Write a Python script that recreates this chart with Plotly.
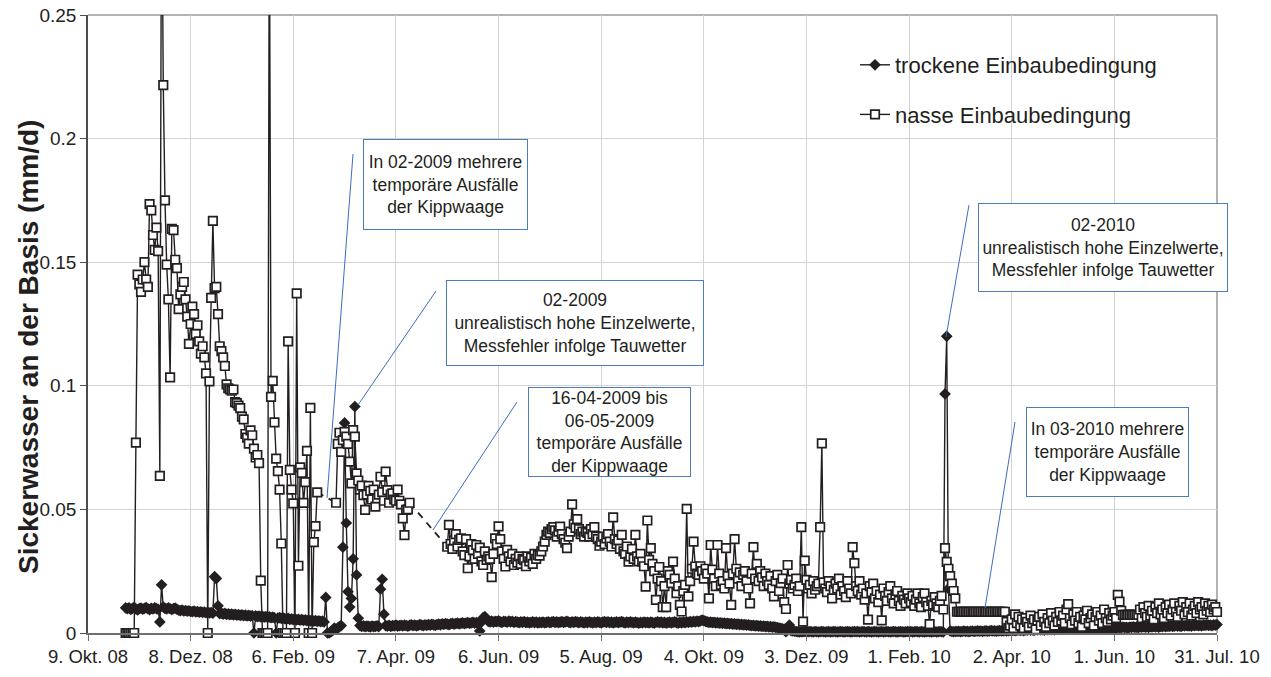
import pandas as pd
import plotly.graph_objects as go

# ---------------- data (daily values, mm/d) ----------------
tick_dates = ["2008-10-09", "2008-12-08", "2009-02-06", "2009-04-07", "2009-06-06", "2009-08-05",
              "2009-10-04", "2009-12-03", "2010-02-01", "2010-04-02", "2010-06-01", "2010-07-31"]
tick_labels = ["9. Okt. 08", "8. Dez. 08", "6. Feb. 09", "7. Apr. 09", "6. Jun. 09", "5. Aug. 09",
               "4. Okt. 09", "3. Dez. 09", "1. Feb. 10", "2. Apr. 10", "1. Jun. 10", "31. Jul. 10"]

# nasse Einbaubedingung (None = Ausfall der Kippwaage)
wet_2008_10 = [0.0]
wet_2008_11 = [0, 0, 0, 0, 0, 0.077, 0.145, 0.141, 0.138, 0.143, 0.150, 0.143, 0.140, 0.1735, 0.171,
               0.161, 0.155, 0.164, 0.1545, 0.0636, 0.32, 0.2216, 0.175, 0.149, 0.135, 0.1034, 0.1635,
               0.163, 0.151, 0.1476]
wet_2008_12 = [0.131, 0.137, 0.140, 0.142, 0.135, 0.128, 0.117, 0.125, 0.132, 0.129, 0.121, 0.1245,
               0.118, 0.113, 0.116, 0.1115, 0.105, 0.0, 0.1018, 0.1356, 0.1667, 0.1395, 0.140, 0.129,
               0.116, 0.114, 0.1115, 0.108, 0.1006, 0.099, 0.0985]
wet_2009_01 = [0.098, 0.0985, 0.0934, 0.093, 0.092, 0.091, 0.0875, 0.0864, 0.0805, 0.079, 0.0766,
               0.082, 0.080, 0.0746, 0.071, 0.072, 0.0687, 0.0212, 0.0, 0.0, 0.0, 0.0, 0.30, 0.0955,
               0.102, 0.0852, 0.0705, 0.0655, 0.058, 0.0362, 0.0]
wet_2009_02 = [0.0, 0.0, 0.118, 0.066, 0.058, 0.0524, 0.0, 0.1374, 0.0272, 0.067, 0.0648, 0.0526,
               0.061, 0.0737, 0.0, 0.0911, 0.0, 0.0368, 0.0432, 0.0569,
               None, None, None, None, None, None, None, None]
wet_2009_03 = [None, None, 0.0527, 0.0765, 0.081, 0.0733, 0.078, 0.0814, 0.0794, 0.0765, 0.0693,
               0.0605, 0.0821, 0.0794, 0.0646, 0.0617, 0.058, 0.0596, 0.0558, 0.0498, 0.056, 0.0595,
               0.0575, 0.054, 0.058, 0.0511, 0.0545, 0.056, 0.0632, 0.057, 0.0535]
wet_2009_04 = [0.0653, 0.0578, 0.0527, 0.056, 0.0565, 0.054, 0.0535, 0.058, 0.0535, 0.052, 0.0464,
               0.0396, 0.0498, 0.050, 0.0527,
               None, None, None, None, None, None, None, None, None, None, None, None, None, None, None]
wet_2009_05 = [None, None, None, None, None, None, 0.0349, 0.0437, 0.036, 0.034, 0.0375, 0.040,
               0.035, 0.0377, 0.0383, 0.033, 0.0315, 0.038, 0.0262, 0.031, 0.036, 0.0335, 0.030,
               0.0356, 0.032, 0.0345, 0.029, 0.0275, 0.033, 0.0296, 0.031]
wet_2009_06 = [0.030, 0.0226, 0.032, 0.0383, 0.036, 0.0431, 0.038, 0.033, 0.030, 0.0269, 0.0336,
               0.031, 0.029, 0.032, 0.0275, 0.030, 0.0285, 0.031, 0.028, 0.030, 0.0295, 0.027, 0.031,
               0.029, 0.0305, 0.028, 0.032, 0.030, 0.0315, 0.0313]
wet_2009_07 = [0.033, 0.035, 0.037, 0.0397, 0.041, 0.0405, 0.042, 0.0428, 0.0415, 0.039, 0.041,
               0.043, 0.040, 0.038, 0.0365, 0.0343, 0.039, 0.041, 0.052, 0.044, 0.0425, 0.0461, 0.042,
               0.040, 0.041, 0.039, 0.041, 0.0405, 0.039, 0.042, 0.040]
wet_2009_08 = [0.0428, 0.039, 0.038, 0.0353, 0.037, 0.039, 0.036, 0.0383, 0.040, 0.037, 0.035,
               0.0468, 0.038, 0.036, 0.0375, 0.034, 0.0397, 0.033, 0.032, 0.035, 0.0289, 0.031, 0.034,
               0.030, 0.0397, 0.031, 0.029, 0.032, 0.0289, 0.027, 0.0188]
wet_2009_09 = [0.0455, 0.0296, 0.0343, 0.028, 0.025, 0.0134, 0.022, 0.0267, 0.021, 0.0105, 0.019,
               0.0105, 0.025, 0.0235, 0.0202, 0.0289, 0.022, 0.0161, 0.019, 0.0114, 0.0087, 0.017,
               0.0195, 0.0502, 0.0148, 0.021, 0.026, 0.037, 0.0269, 0.024]
wet_2009_10 = [0.0235, 0.027, 0.025, 0.022, 0.026, 0.024, 0.014, 0.0356, 0.0256, 0.022, 0.019,
               0.0356, 0.024, 0.0195, 0.021, 0.018, 0.0343, 0.023, 0.020, 0.0114, 0.024, 0.038, 0.026,
               0.022, 0.0245, 0.019, 0.0235, 0.025, 0.021, 0.018, 0.012]
wet_2009_11 = [0.024, 0.0347, 0.022, 0.028, 0.021, 0.025, 0.0225, 0.019, 0.024, 0.021, 0.0195,
               0.023, 0.018, 0.0148, 0.021, 0.0235, 0.017, 0.0202, 0.022, 0.0125, 0.0097, 0.0275,
               0.020, 0.0215, 0.018, 0.0195, 0.022, 0.017, 0.019, 0.0428]
wet_2009_12 = [0.0046, 0.0293, 0.0215, 0.018, 0.0195, 0.016, 0.021, 0.0175, 0.019, 0.020, 0.0428,
               0.0767, 0.0205, 0.018, 0.0165, 0.021, 0.019, 0.014, 0.0175, 0.020, 0.018, 0.022, 0.0155,
               0.019, 0.017, 0.0145, 0.021, 0.018, 0.016, 0.0347, 0.0283]
wet_2010_01 = [0.019, 0.017, 0.021, 0.0155, 0.018, 0.0135, 0.016, 0.0054, 0.019, 0.0165, 0.020,
               0.014, 0.017, 0.0125, 0.0155, 0.0051, 0.018, 0.015, 0.013, 0.0165, 0.019, 0.014, 0.012,
               0.0155, 0.017, 0.013, 0.011, 0.015, 0.0135, 0.012, 0.016]
wet_2010_02 = [0.014, 0.0125, 0.015, 0.011, 0.0135, 0.016, 0.012, 0.0105, 0.0145, 0.016, 0.0125,
               0.011, 0.0036, 0.013, 0.0115, 0.0145, 0.012, 0.0105, 0.013, 0.015, 0.0095, 0.0343,
               0.0288, 0.026, 0.023, 0.020, 0.017, 0.014]
wet_2010_03 = [0.0086, 0.0086, 0.0086, 0.0086, 0.0086, 0.0086, 0.0086, 0.0086, 0.0086, 0.0086,
               0.0086, 0.0086, 0.0086, 0.0086, 0.0086, 0.0086, 0.0086, 0.0086, 0.0086, 0.0086,
               0.0086, 0.0086, 0.0086, 0.0086, 0.0086, 0.0086, 0.0086, 0.0086, 0.0086, 0.0045, 0.002]
wet_2010_04 = [0.003, 0.0055, 0.002, 0.0075, 0.004, 0.0065, 0.003, 0.0055, 0.002, 0.006, 0.0045,
               0.0025, 0.007, 0.004, 0.0055, 0.0015, 0.005, 0.0065, 0.003, 0.0075, 0.0045, 0.0025,
               0.006, 0.004, 0.008, 0.005, 0.003, 0.0065, 0.0045, 0.0085]
wet_2010_05 = [0.005, 0.007, 0.004, 0.0095, 0.0117, 0.006, 0.0035, 0.0075, 0.005, 0.0085, 0.004,
               0.0065, 0.0025, 0.007, 0.0055, 0.009, 0.004, 0.006, 0.0075, 0.003, 0.0065, 0.0085,
               0.005, 0.007, 0.004, 0.0095, 0.006, 0.0045, 0.008, 0.0055, 0.007]
wet_2010_06 = [0.0085, 0.006, 0.0154, 0.0127, 0.009, 0.0073, 0.0073, 0.0073, 0.0073, 0.0073, 0.0073,
               0.0073, 0.0073, 0.0073, 0.0073, 0.0095, 0.006, 0.0105, 0.008, 0.0065, 0.011, 0.007,
               0.009, 0.0055, 0.0105, 0.008, 0.012, 0.0075, 0.0095, 0.006]
wet_2010_07 = [0.0105, 0.008, 0.0115, 0.007, 0.0095, 0.012, 0.0085, 0.0065, 0.011, 0.009, 0.0125,
               0.0075, 0.0105, 0.0085, 0.012, 0.007, 0.0095, 0.011, 0.008, 0.0125, 0.0095, 0.0105,
               0.0075, 0.012, 0.009, 0.011, 0.0085, 0.0115, 0.0095, 0.0105, 0.0085]

# trockene Einbaubedingung
dry_2008_10 = [0.0102]
dry_2008_11 = [0.0098, 0.0102, 0.0095, 0.0100, 0.0104, 0.0097, 0.0093, 0.0099, 0.0101, 0.0096,
               0.0100, 0.0103, 0.0098, 0.0094, 0.0100, 0.0097, 0.0102, 0.0099, 0.0096, 0.0045,
               0.0195, 0.0105, 0.0100, 0.0097, 0.0102, 0.0098, 0.0095, 0.0099, 0.0101, 0.0096]
dry_2008_12 = [0.0092, 0.0090, 0.0093, 0.0089, 0.0091, 0.0088, 0.0090, 0.0087, 0.0086, 0.0089,
               0.0085, 0.0087, 0.0084, 0.0086, 0.0083, 0.0085, 0.0082, 0.0084, 0.0081, 0.0083,
               0.0080, 0.0228, 0.0220, 0.0110, 0.0078, 0.0080, 0.0076, 0.0079, 0.0075, 0.0077, 0.0074]
dry_2009_01 = [0.0076, 0.0073, 0.0075, 0.0072, 0.0074, 0.0071, 0.0073, 0.0070, 0.0072, 0.0069,
               0.0071, 0.0068, 0.0070, 0.0000, 0.0069, 0.0066, 0.0068, 0.0065, 0.0067, 0.0064,
               0.0066, 0.0063, 0.0065, 0.0062, 0.0064, 0.0061, 0.0000, 0.0060, 0.0062, 0.0059, 0.0061]
dry_2009_02 = [0.0058, 0.0056, 0.0059, 0.0055, 0.0057, 0.0054, 0.0056, 0.0053, 0.0055, 0.0052,
               0.0054, 0.0051, 0.0053, 0.0050, 0.0052, 0.0049, 0.0051, 0.0048, 0.0050, 0.0047,
               0.0049, 0.0046, 0.0048, 0.0045, 0.0144, 0.0000, 0.0000, 0.0005]
dry_2009_03 = [0.0010, 0.0020, 0.0015, 0.0020, 0.0026, 0.0030, 0.0347, 0.0850, 0.0445, 0.0167,
               0.0105, 0.0140, 0.0300, 0.0916, 0.0235, 0.0060, 0.0030, 0.0027, 0.0029, 0.0026,
               0.0028, 0.0027, 0.0025, 0.0028, 0.0026, 0.0027, 0.0029, 0.0026, 0.0177, 0.0217, 0.0076]
dry_2009_04 = [0.0030, 0.0028, 0.0031, 0.0027, 0.0030, 0.0029, 0.0032, 0.0028, 0.0030, 0.0031,
               0.0029, 0.0032, 0.0030, 0.0028, 0.0031, 0.0033, 0.0030, 0.0032, 0.0029, 0.0031,
               0.0034, 0.0032, 0.0030, 0.0033, 0.0031, 0.0034, 0.0032, 0.0035, 0.0033, 0.0031]
dry_2009_05 = [0.0034, 0.0036, 0.0033, 0.0037, 0.0035, 0.0038, 0.0036, 0.0034, 0.0037, 0.0039,
               0.0036, 0.0038, 0.0040, 0.0037, 0.0039, 0.0041, 0.0038, 0.0040, 0.0042, 0.0039,
               0.0041, 0.0043, 0.0040, 0.0042, 0.0039, 0.0008, 0.0044, 0.0062, 0.0066, 0.0058, 0.0047]
dry_2009_06 = [0.0045, 0.0048, 0.0044, 0.0047, 0.0046, 0.0049, 0.0045, 0.0043, 0.0047, 0.0046,
               0.0044, 0.0048, 0.0045, 0.0047, 0.0043, 0.0046, 0.0044, 0.0042, 0.0045, 0.0043,
               0.0046, 0.0042, 0.0044, 0.0041, 0.0043, 0.0045, 0.0042, 0.0044, 0.0041, 0.0043]
dry_2009_07 = [0.0042, 0.0044, 0.0041, 0.0043, 0.0045, 0.0042, 0.0044, 0.0046, 0.0043, 0.0045,
               0.0042, 0.0044, 0.0046, 0.0043, 0.0045, 0.0047, 0.0044, 0.0042, 0.0045, 0.0043,
               0.0046, 0.0044, 0.0042, 0.0045, 0.0043, 0.0041, 0.0044, 0.0042, 0.0045, 0.0043, 0.0041]
dry_2009_08 = [0.0044, 0.0042, 0.0045, 0.0043, 0.0041, 0.0044, 0.0046, 0.0043, 0.0045, 0.0042,
               0.0044, 0.0041, 0.0043, 0.0045, 0.0042, 0.0044, 0.0046, 0.0043, 0.0041, 0.0044,
               0.0042, 0.0045, 0.0043, 0.0041, 0.0044, 0.0042, 0.0040, 0.0043, 0.0041, 0.0044, 0.0042]
dry_2009_09 = [0.0043, 0.0041, 0.0044, 0.0042, 0.0040, 0.0043, 0.0045, 0.0042, 0.0044, 0.0041,
               0.0043, 0.0040, 0.0042, 0.0044, 0.0041, 0.0043, 0.0045, 0.0042, 0.0040, 0.0043,
               0.0041, 0.0044, 0.0042, 0.0045, 0.0043, 0.0046, 0.0044, 0.0047, 0.0045, 0.0048]
dry_2009_10 = [0.0046, 0.0049, 0.0052, 0.0050, 0.0047, 0.0045, 0.0043, 0.0044, 0.0042, 0.0043,
               0.0041, 0.0042, 0.0040, 0.0041, 0.0039, 0.0040, 0.0038, 0.0039, 0.0037, 0.0038,
               0.0036, 0.0037, 0.0035, 0.0036, 0.0034, 0.0035, 0.0033, 0.0034, 0.0032, 0.0033, 0.0031]
dry_2009_11 = [0.0030, 0.0031, 0.0029, 0.0030, 0.0028, 0.0029, 0.0027, 0.0028, 0.0026, 0.0027,
               0.0025, 0.0026, 0.0024, 0.0025, 0.0023, 0.0022, 0.0020, 0.0019, 0.0017, 0.0015,
               0.0005, 0.0012, 0.0032, 0.0010, 0.0008, 0.0007, 0.0006, 0.0005, 0.0004, 0.0005]
dry_2009_12 = [0.0005, 0.0006, 0.0004, 0.0005, 0.0006, 0.0005, 0.0004, 0.0006, 0.0005, 0.0004,
               0.0005, 0.0006, 0.0005, 0.0004, 0.0005, 0.0006, 0.0004, 0.0005, 0.0006, 0.0005,
               0.0004, 0.0005, 0.0006, 0.0005, 0.0004, 0.0005, 0.0006, 0.0005, 0.0004, 0.0005, 0.0006]
dry_2010_01 = [0.0005, 0.0006, 0.0004, 0.0005, 0.0006, 0.0005, 0.0004, 0.0006, 0.0005, 0.0004,
               0.0005, 0.0006, 0.0005, 0.0004, 0.0005, 0.0006, 0.0004, 0.0005, 0.0006, 0.0005,
               0.0004, 0.0005, 0.0006, 0.0005, 0.0004, 0.0005, 0.0006, 0.0005, 0.0004, 0.0005, 0.0006]
dry_2010_02 = [0.0005, 0.0006, 0.0004, 0.0005, 0.0006, 0.0005, 0.0004, 0.0006, 0.0005, 0.0004,
               0.0005, 0.0006, 0.0005, 0.0004, 0.0005, 0.0006, 0.0004, 0.0005, 0.0006, 0.0005,
               0.0004, 0.0967, 0.1200, 0.0180, 0.0008, 0.0006, 0.0005, 0.0006]
dry_2010_03 = [0.0006, 0.0007, 0.0005, 0.0006, 0.0008, 0.0006, 0.0007, 0.0005, 0.0007, 0.0008,
               0.0006, 0.0007, 0.0009, 0.0007, 0.0008, 0.0006, 0.0008, 0.0009, 0.0007, 0.0008,
               0.0010, 0.0008, 0.0009, 0.0007, 0.0009, 0.0010, 0.0008, 0.0009, 0.0011, 0.0009, 0.0010]
dry_2010_04 = [0.0011, 0.0009, 0.0012, 0.0010, 0.0011, 0.0013, 0.0011, 0.0012, 0.0010, 0.0013,
               0.0012, 0.0014, 0.0012, 0.0013, 0.0011, 0.0014, 0.0013, 0.0015, 0.0013, 0.0014,
               0.0012, 0.0015, 0.0014, 0.0016, 0.0014, 0.0015, 0.0013, 0.0016, 0.0015, 0.0017]
dry_2010_05 = [0.0015, 0.0017, 0.0016, 0.0018, 0.0016, 0.0017, 0.0015, 0.0018, 0.0017, 0.0019,
               0.0017, 0.0018, 0.0016, 0.0019, 0.0018, 0.0020, 0.0018, 0.0019, 0.0017, 0.0020,
               0.0019, 0.0021, 0.0019, 0.0020, 0.0018, 0.0021, 0.0020, 0.0022, 0.0020, 0.0021, 0.0019]
dry_2010_06 = [0.0022, 0.0020, 0.0023, 0.0021, 0.0022, 0.0024, 0.0022, 0.0023, 0.0021, 0.0024,
               0.0023, 0.0025, 0.0023, 0.0024, 0.0022, 0.0025, 0.0024, 0.0026, 0.0024, 0.0025,
               0.0023, 0.0026, 0.0025, 0.0027, 0.0025, 0.0026, 0.0024, 0.0027, 0.0026, 0.0028]
dry_2010_07 = [0.0026, 0.0028, 0.0027, 0.0029, 0.0027, 0.0028, 0.0030, 0.0028, 0.0029, 0.0027,
               0.0030, 0.0029, 0.0031, 0.0029, 0.0030, 0.0028, 0.0031, 0.0030, 0.0032, 0.0030,
               0.0031, 0.0029, 0.0032, 0.0031, 0.0033, 0.0031, 0.0032, 0.0030, 0.0033, 0.0032, 0.0034]

month_starts = ["2008-10-31", "2008-11-01", "2008-12-01", "2009-01-01", "2009-02-01", "2009-03-01",
                "2009-04-01", "2009-05-01", "2009-06-01", "2009-07-01", "2009-08-01", "2009-09-01",
                "2009-10-01", "2009-11-01", "2009-12-01", "2010-01-01", "2010-02-01", "2010-03-01",
                "2010-04-01", "2010-05-01", "2010-06-01", "2010-07-01"]
wet_parts = [wet_2008_10, wet_2008_11, wet_2008_12, wet_2009_01, wet_2009_02, wet_2009_03,
             wet_2009_04, wet_2009_05, wet_2009_06, wet_2009_07, wet_2009_08, wet_2009_09,
             wet_2009_10, wet_2009_11, wet_2009_12, wet_2010_01, wet_2010_02, wet_2010_03,
             wet_2010_04, wet_2010_05, wet_2010_06, wet_2010_07]
dry_parts = [dry_2008_10, dry_2008_11, dry_2008_12, dry_2009_01, dry_2009_02, dry_2009_03,
             dry_2009_04, dry_2009_05, dry_2009_06, dry_2009_07, dry_2009_08, dry_2009_09,
             dry_2009_10, dry_2009_11, dry_2009_12, dry_2010_01, dry_2010_02, dry_2010_03,
             dry_2010_04, dry_2010_05, dry_2010_06, dry_2010_07]

y_title = "Sickerwasser an der Basis (mm/d)"
annotation_texts = [
    "In 02-2009 mehrere<br>temporäre Ausfälle<br>der Kippwaage",
    "02-2009<br>unrealistisch hohe Einzelwerte,<br>Messfehler infolge Tauwetter",
    "16-04-2009 bis<br>06-05-2009<br>temporäre Ausfälle<br>der Kippwaage",
    "02-2010<br>unrealistisch hohe Einzelwerte,<br>Messfehler infolge Tauwetter",
    "In 03-2010 mehrere<br>temporäre Ausfälle<br>der Kippwaage",
]


def build(parts):
    xs, ys = [], []
    for start, vals in zip(month_starts, parts):
        xs.extend(pd.date_range(start, periods=len(vals), freq="D"))
        ys.extend(vals)
    return xs, ys


wet_x, wet_y = build(wet_parts)
dry_x, dry_y = build(dry_parts)

# dashed connectors across gaps of the wet series
gap_x, gap_y = [], []
i = 0
n = len(wet_y)
while i < n:
    if wet_y[i] is None:
        j = i
        while j < n and wet_y[j] is None:
            j += 1
        if i > 0 and j < n:
            gap_x += [wet_x[i - 1], wet_x[j], None]
            gap_y += [wet_y[i - 1], wet_y[j], None]
        i = j
    else:
        i += 1

# ---------------- layout geometry ----------------
W, H = 1271, 677
L, R, T, B = 88, 1217, 15, 633          # plot area in pixels
FONT = "Liberation Sans, Arial, sans-serif"
INK = "#231f20"
BLUE = "#4a7ebb"


def px(x):
    return (x - L) / (R - L)


def py(y):
    return (B - y) / (B - T)


fig = go.Figure()
fig.add_trace(go.Scatter(
    x=dry_x, y=dry_y, mode="lines+markers", name="trockene Einbaubedingung",
    legendgroup="a", cliponaxis=False,
    line=dict(color=INK, width=1.4),
    marker=dict(symbol="diamond", size=9, color=INK, line=dict(width=0)),
))
fig.add_trace(go.Scatter(
    x=gap_x, y=gap_y, mode="lines", showlegend=False, hoverinfo="skip",
    line=dict(color=INK, width=1.8, dash="7px,6px"),
))
fig.add_trace(go.Scatter(
    x=wet_x, y=wet_y, mode="lines+markers", name="nasse Einbaubedingung",
    legendgroup="b", cliponaxis=False,
    line=dict(color=INK, width=1.4),
    marker=dict(symbol="square", size=8.5, color="white", line=dict(color=INK, width=1.7)),
))

# annotation boxes (pixel boxes: left, top, right, bottom)
boxes = [(363, 139, 528, 230), (446, 280, 704, 366), (528, 387, 691, 477),
         (978, 203, 1228, 292), (1026, 407, 1189, 497)]
for (x0, y0, x1, y1), txt in zip(boxes, annotation_texts):
    fig.add_annotation(
        x=px((x0 + x1) / 2), y=py((y0 + y1) / 2), xref="paper", yref="paper",
        xanchor="center", yanchor="middle", showarrow=False, text=txt,
        width=x1 - x0 - 2, height=y1 - y0 - 2, borderpad=0,
        bordercolor=BLUE, borderwidth=1, bgcolor="white", align="center", valign="middle",
        font=dict(family=FONT, size=17.5, color=INK),
    )

leaders = [((353, 154), (327, 498)), ((436, 291), (358, 405)), ((517, 402), (433, 530)),
           ((969, 205), (946, 337)), ((1015, 422), (985, 608))]
for (a, b) in leaders:
    fig.add_shape(type="line", xref="paper", yref="paper",
                  x0=px(a[0]), y0=py(a[1]), x1=px(b[0]), y1=py(b[1]),
                  line=dict(color="#3d6cc0", width=1))

# y-axis title as rotated text
fig.add_annotation(
    x=px(28), y=py(347), xref="paper", yref="paper", xanchor="center", yanchor="middle",
    showarrow=False, textangle=-90, text="<b>" + y_title + "</b>",
    font=dict(family=FONT, size=28, color=INK),
)

# top / right plot border
fig.add_shape(type="line", xref="paper", yref="paper", x0=0, y0=1, x1=1, y1=1,
              line=dict(color="#9a9a9a", width=1.5), layer="below")
fig.add_shape(type="line", xref="paper", yref="paper", x0=1, y0=0, x1=1, y1=1,
              line=dict(color="#9a9a9a", width=1.5), layer="below")

fig.update_layout(
    width=W, height=H,
    margin=dict(l=L, r=W - R, t=T, b=H - B, autoexpand=False),
    paper_bgcolor="white", plot_bgcolor="white",
    font=dict(family=FONT, color=INK),
    showlegend=True,
    legend=dict(x=px(855), y=py(44), xanchor="left", yanchor="top",
                bgcolor="rgba(0,0,0,0)", font=dict(size=22, family=FONT, color=INK),
                tracegroupgap=18, itemwidth=30),
    xaxis=dict(
        type="date", range=["2008-10-09", "2010-07-31"], automargin=False,
        tickvals=tick_dates, ticktext=tick_labels, tickangle=0,
        showgrid=True, gridcolor="#d3d3d3", gridwidth=1,
        showline=True, linecolor="#6e6e6e", linewidth=1.5,
        ticks="outside", ticklen=6, tickcolor="#6e6e6e",
        tickfont=dict(size=18.5, family=FONT, color=INK), zeroline=False,
    ),
    yaxis=dict(
        range=[0, 0.25], tick0=0, dtick=0.05, automargin=False,
        ticklabeloverflow="allow",
        showgrid=True, gridcolor="#d3d3d3", gridwidth=1,
        showline=True, linecolor="#4d4d4d", linewidth=1.5,
        ticks="outside", ticklen=6, tickcolor="#4d4d4d",
        tickfont=dict(size=19, family=FONT, color=INK), zeroline=False,
    ),
)

# remove the default page margin so the figure sits at the window's origin
fig.write_html("out.html", config={"displayModeBar": False},
               post_script="document.body.style.margin='0';document.body.style.padding='0';")
